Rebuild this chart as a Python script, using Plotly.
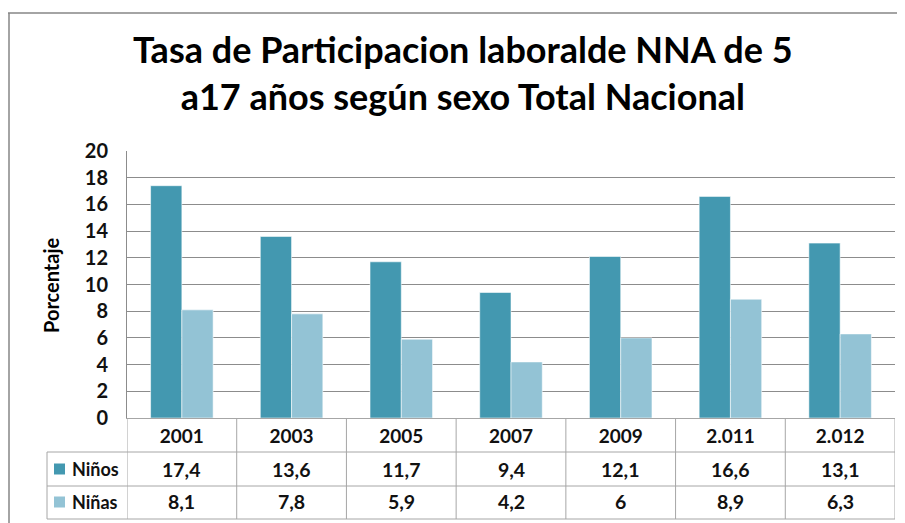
import plotly.graph_objects as go

years = ["2001", "2003", "2005", "2007", "2009", "2.011", "2.012"]
ninos = [17.4, 13.6, 11.7, 9.4, 12.1, 16.6, 13.1]
ninas = [8.1, 7.8, 5.9, 4.2, 6, 8.9, 6.3]
series_names = ["Niños", "Niñas"]
y_ticks = [0, 2, 4, 6, 8, 10, 12, 14, 16, 18, 20]
title_text = "Tasa de Participacion laboralde NNA de 5<br>a17 años según sexo Total Nacional"
y_title = "Porcentaje"

FONT = "Lato, Carlito, Calibri, sans-serif"
C_NINOS = "#4398B0"
C_NINAS = "#93C3D5"
GRID = "#8C8C8C"
TABLE = "#A6A6A6"
TXT = "#111111"

W, H = 905, 523
OFF = 8  # page body margin offset
# plot area in page pixels
PL, PR, PT, PB = 127, 895, 151, 418
L, T = PL - OFF, PT - OFF
R = (W + OFF) - PR
B = (H + OFF) - PB
PW, PH = PR - PL, PB - PT


def px_x(x):
    return (x - PL) / PW


def px_y(y):
    return (PB - y) / PH


fig = go.Figure()
for name, vals, col in [(series_names[0], ninos, C_NINOS), (series_names[1], ninas, C_NINAS)]:
    fig.add_trace(go.Bar(
        x=years, y=vals, name=name,
        marker=dict(color=col, line=dict(color="rgba(255,255,255,0.55)", width=1)),
        showlegend=False,
    ))

shapes = []
# outer chart border (top and left visible)
shapes.append(dict(type="line", xref="paper", yref="paper", x0=px_x(8), x1=px_x(920),
                   y0=px_y(13), y1=px_y(13), line=dict(color="#868686", width=1.5)))
shapes.append(dict(type="line", xref="paper", yref="paper", x0=px_x(9), x1=px_x(9),
                   y0=px_y(13), y1=px_y(540), line=dict(color="#868686", width=1.5)))

# data table grid
row_lines = [452, 486, 519]
for yl in row_lines:
    shapes.append(dict(type="line", xref="paper", yref="paper", x0=px_x(47), x1=1,
                       y0=px_y(yl), y1=px_y(yl), line=dict(color=TABLE, width=1)))
shapes.append(dict(type="line", xref="paper", yref="paper", x0=px_x(47), x1=px_x(47),
                   y0=px_y(452), y1=px_y(519), line=dict(color=TABLE, width=1)))
for i in range(len(years) + 1):
    shapes.append(dict(type="line", xref="x", yref="paper", x0=i - 0.5, x1=i - 0.5,
                       y0=0, y1=px_y(519), line=dict(color=TABLE, width=1)))

annotations = []
row_centers = [469, 502]
for vals, yc, name, col in [(ninos, row_centers[0], series_names[0], C_NINOS),
                            (ninas, row_centers[1], series_names[1], C_NINAS)]:
    for i, v in enumerate(vals):
        annotations.append(dict(x=i, y=px_y(yc), xref="x", yref="paper", showarrow=False,
                                xanchor="center", yanchor="middle",
                                text="<b>" + f"{v:g}".replace(".", ",") + "</b>",
                                font=dict(family=FONT, size=19.5, color=TXT)))
    shapes.append(dict(type="rect", xref="paper", yref="paper",
                       x0=px_x(54), x1=px_x(65), y0=px_y(yc + 5.5), y1=px_y(yc - 5.5),
                       fillcolor=col, line=dict(width=0)))
    annotations.append(dict(x=px_x(70), y=px_y(yc), xref="paper", yref="paper", showarrow=False,
                            xanchor="left", yanchor="middle", text=f"<b>{name}</b>",
                            font=dict(family=FONT, size=18, color=TXT)))

annotations.append(dict(x=px_x(51), y=px_y(285), xref="paper", yref="paper", showarrow=False,
                        xanchor="center", yanchor="middle",
                        text=f"<b>{y_title}</b>", textangle=-90,
                        font=dict(family=FONT, size=20, color="#000")))
annotations.append(dict(x=px_x(463), y=px_y(73), xref="paper", yref="paper", showarrow=False,
                        xanchor="center", yanchor="middle",
                        text=f"<b>{title_text}</b>",
                        font=dict(family=FONT, size=36, color="#000")))

fig.update_layout(
    width=W, height=H,
    margin=dict(l=L, r=R, t=T, b=B, pad=0),
    paper_bgcolor="white", plot_bgcolor="white",
    barmode="group", bargap=0.43, bargroupgap=0,
    font=dict(family=FONT, color="#000"),
    shapes=shapes, annotations=annotations,
)
fig.update_xaxes(
    type="category", range=[-0.5, len(years) - 0.5],
    tickmode="array", tickvals=years, ticktext=[f"<b>{y}</b>" for y in years],
    tickfont=dict(family=FONT, size=19, color=TXT),
    showline=True, linecolor=TABLE, linewidth=1, showgrid=False, ticks="",
    ticklabelstandoff=1,
)
fig.update_yaxes(
    range=[0, 20], tickmode="array", tickvals=y_ticks,
    ticktext=[f"<b>{t}</b>" for t in y_ticks],
    tickfont=dict(family=FONT, size=20, color=TXT),
    showgrid=True, gridcolor=GRID, gridwidth=1,
    showline=True, linecolor=GRID, linewidth=1, ticks="", zeroline=False,
    ticklabelstandoff=14,
)

fig.write_html("out.html")
